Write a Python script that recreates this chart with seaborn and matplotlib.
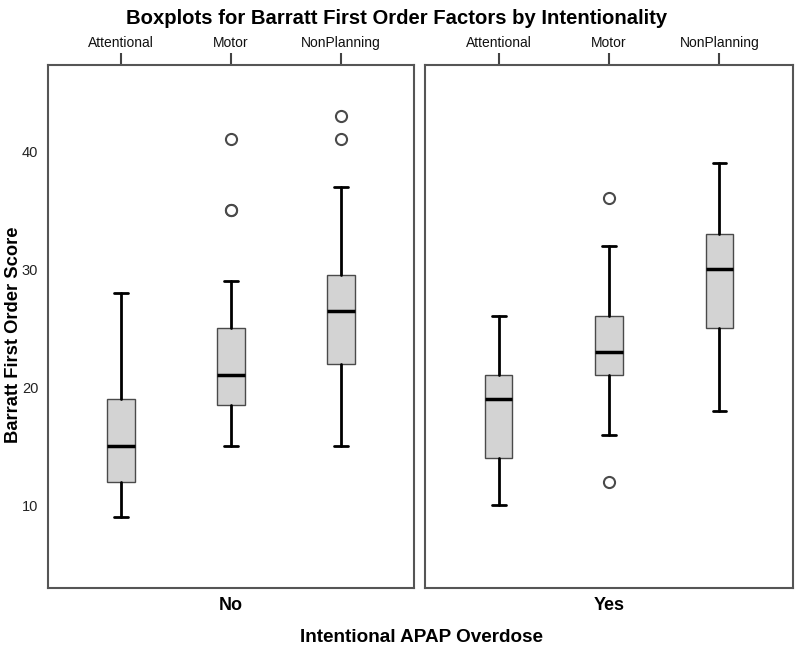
import matplotlib
matplotlib.use("Agg")
import matplotlib.pyplot as plt
import seaborn as sns

# valori (statistiche dei box)
groups = ["No", "Yes"]
factors = ["Attentional", "Motor", "NonPlanning"]
whis_lo = [[9, 15, 15], [10, 16, 18]]
q1 = [[12, 18.5, 22], [14, 21, 25]]
median = [[15, 21, 26.5], [19, 23, 30]]
q3 = [[19, 25, 29.5], [21, 26, 33]]
whis_hi = [[28, 29, 37], [26, 32, 39]]
outliers = [[[], [35, 35, 41], [41, 43]], [[], [12, 36], []]]
y_ticks = [10, 20, 30, 40]

sns.set_style("white")
plt.rcParams['font.family'] = ['Liberation Sans', 'DejaVu Sans']
plt.rcParams['text.color'] = 'black'

fig = plt.figure(figsize=(8, 6.55), dpi=100)
W, H = 800, 655
panels = [(48, 414), (425, 793)]
top, bottom = 65, 588

axes = []
for g, (x0, x1) in enumerate(panels):
    ax = fig.add_axes([x0 / W, 1 - bottom / H, (x1 - x0) / W, (bottom - top) / H],
                      sharey=axes[0] if axes else None)
    stats = []
    for i, f in enumerate(factors):
        stats.append(dict(label=f, whislo=whis_lo[g][i], q1=q1[g][i], med=median[g][i],
                          q3=q3[g][i], whishi=whis_hi[g][i], fliers=outliers[g][i]))
    ax.bxp(stats, positions=range(len(factors)), widths=0.25, patch_artist=True,
           boxprops=dict(facecolor='#d3d3d3', edgecolor='#4a4a4a', linewidth=1),
           medianprops=dict(color='black', linewidth=2.5),
           whiskerprops=dict(color='black', linewidth=2),
           capprops=dict(color='black', linewidth=2),
           flierprops=dict(marker='o', markerfacecolor='white', markeredgecolor='#4a4a4a',
                           markersize=8, markeredgewidth=1.5))
    ax.set_xlim(-2 / 3, 2 + 2 / 3)
    ax.xaxis.tick_top()
    ax.set_xticks(range(len(factors)))
    ax.set_xticklabels(factors)
    ax.tick_params(axis='x', direction='out', length=9, width=1.5, color='#444444',
                   labelsize=10, labelcolor='#111111', pad=2)
    for s in ax.spines.values():
        s.set_color('#555555')
        s.set_linewidth(1.5)
    ax.text(0.5, -0.033, groups[g], transform=ax.transAxes, ha='center', va='center',
            fontsize=13, fontweight='bold')
    axes.append(ax)

axes[0].set_ylim(3, 47.3)
axes[0].set_yticks(y_ticks)
axes[0].tick_params(axis='y', direction='out', length=6, width=1.5, color='#444444',
                    labelsize=10.5, labelcolor='#222222', pad=1)
axes[1].tick_params(axis='y', left=False, labelleft=False)

fig.text(397 / W, 1 - 19 / H, "Boxplots for Barratt First Order Factors by Intentionality",
         ha='center', va='center', fontsize=14.6, fontweight='bold')
fig.text(14 / W, 1 - 335 / H, "Barratt First Order Score", rotation=90,
         ha='center', va='center', fontsize=13.2, fontweight='bold')
fig.text(421 / W, 1 - 637 / H, "Intentional APAP Overdose",
         ha='center', va='center', fontsize=13.6, fontweight='bold')

fig.savefig("out.png", dpi=100)
